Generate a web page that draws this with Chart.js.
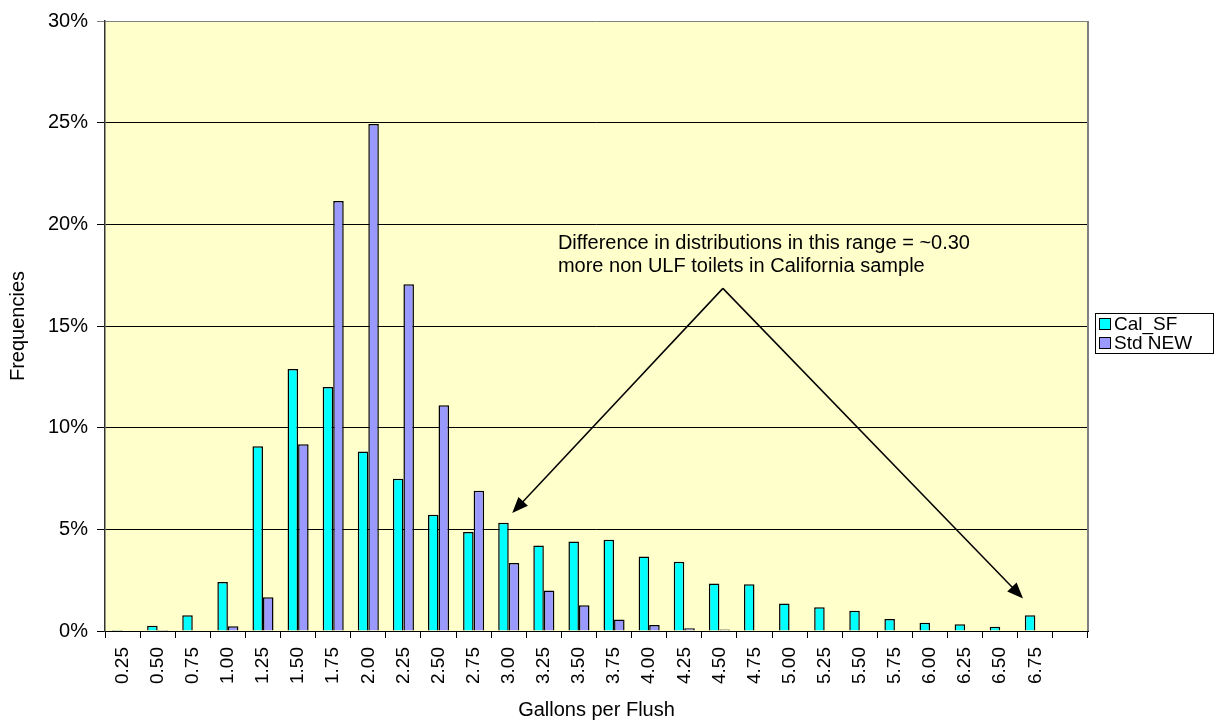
<!DOCTYPE html>
<html>
<head>
<meta charset="utf-8">
<title>Gallons per Flush</title>
<script src="https://cdn.jsdelivr.net/npm/chart.js@4.4.1/dist/chart.umd.min.js"></script>
<style>
    body { margin: 0; background: #fff; }
    #wrap { width: 1221px; height: 721px; position: relative; }
</style>
</head>
<body>
<div id="wrap"><canvas id="flushChart"></canvas></div>
<script>
// Categories (gallons per flush); the last slot is empty in the original
const gpfLabels = ['0.25', '0.50', '0.75', '1.00', '1.25', '1.50', '1.75', '2.00', '2.25', '2.50',
    '2.75', '3.00', '3.25', '3.50', '3.75', '4.00', '4.25', '4.50', '4.75', '5.00',
    '5.25', '5.50', '5.75', '6.00', '6.25', '6.50', '6.75', ''];

// Frequencies in percent
const calSF = [0.05, 0.26, 0.77, 2.41, 9.09, 12.88, 12.0, 8.83, 7.49, 5.72,
    4.87, 5.32, 4.2, 4.4, 4.49, 3.66, 3.4, 2.34, 2.3, 1.35,
    1.17, 0.99, 0.59, 0.41, 0.33, 0.21, 0.77, null];
const stdNew = [0.02, 0.05, 0.03, 0.23, 1.66, 9.18, 21.15, 24.93, 17.05, 11.1,
    6.9, 3.35, 1.99, 1.27, 0.57, 0.29, 0.13, 0.07, 0.03, 0.03,
    0.02, 0, 0.02, 0.02, 0, 0, 0.02, null];

const yTicks = [0, 5, 10, 15, 20, 25, 30];

const seriesNames = ['Cal_SF', 'Std NEW'];
const seriesColors = ['#00FFFF', '#9999FF'];

const noteLines = ['Difference in distributions in this range = ~0.30',
    'more non ULF toilets in California sample'];

const FONT = "'Liberation Sans', Arial, sans-serif";
Chart.defaults.font.family = FONT;
Chart.defaults.color = '#000';

// Yellow plot background and grey right frame
const plotFrame = {
    id: 'plotFrame',
    beforeDraw(chart) {
        const { ctx, chartArea: a } = chart;
        ctx.save();
        ctx.fillStyle = '#FFFFCC';
        ctx.fillRect(a.left, a.top, a.right - a.left, a.bottom - a.top);
        ctx.restore();
    },
    afterDraw(chart) {
        const { ctx, chartArea: a } = chart;
        ctx.save();
        ctx.strokeStyle = '#808080';
        ctx.lineWidth = 2;
        ctx.beginPath();
        ctx.moveTo(a.right, a.top);
        ctx.lineTo(a.right, a.bottom);
        ctx.stroke();
        ctx.restore();
    }
};

function arrow(ctx, x1, y1, x2, y2) {
    const ang = Math.atan2(y2 - y1, x2 - x1);
    const len = 16, half = 6.5;
    ctx.beginPath();
    ctx.moveTo(x1, y1);
    ctx.lineTo(x2 - Math.cos(ang) * len * 0.8, y2 - Math.sin(ang) * len * 0.8);
    ctx.stroke();
    ctx.beginPath();
    ctx.moveTo(x2, y2);
    ctx.lineTo(x2 - Math.cos(ang) * len + Math.sin(ang) * half, y2 - Math.sin(ang) * len - Math.cos(ang) * half);
    ctx.lineTo(x2 - Math.cos(ang) * len - Math.sin(ang) * half, y2 - Math.sin(ang) * len + Math.cos(ang) * half);
    ctx.closePath();
    ctx.fill();
}

// Note text with the two arrows, placed in axis units
const notePlugin = {
    id: 'note',
    afterDatasetsDraw(chart) {
        const { ctx, scales: { x, y } } = chart;
        const apexX = x.getPixelForValue(17.1), apexY = y.getPixelForValue(16.85);
        ctx.save();
        ctx.strokeStyle = '#000';
        ctx.fillStyle = '#000';
        ctx.lineWidth = 1.5;
        arrow(ctx, apexX, apexY, x.getPixelForValue(11.1), y.getPixelForValue(5.8));
        arrow(ctx, apexX, apexY, x.getPixelForValue(25.65), y.getPixelForValue(1.6));

        ctx.font = '20px ' + FONT;
        ctx.textAlign = 'left';
        ctx.textBaseline = 'alphabetic';
        const tx = x.getPixelForValue(12.4);
        const ty = y.getPixelForValue(18.8);
        noteLines.forEach((line, i) => ctx.fillText(line, tx, ty + i * 23));
        ctx.restore();
    }
};

// Boxed legend to the right of the plot
const boxLegend = {
    id: 'boxLegend',
    afterDraw(chart) {
        const { ctx, chartArea: a } = chart;
        const left = a.right + 7, top = 313, w = 118, h = 40;
        ctx.save();
        ctx.fillStyle = '#fff';
        ctx.fillRect(left, top, w, h);
        ctx.strokeStyle = '#000';
        ctx.lineWidth = 1;
        ctx.strokeRect(left + 0.5, top + 0.5, w, h);
        ctx.font = '19px ' + FONT;
        ctx.textBaseline = 'middle';
        chart.data.datasets.forEach((ds, i) => {
            const cy = top + 11 + i * 19;
            ctx.fillStyle = ds.backgroundColor;
            ctx.fillRect(left + 4, cy - 6, 12, 12);
            ctx.strokeRect(left + 4.5, cy - 5.5, 11, 11);
            ctx.fillStyle = '#000';
            ctx.fillText(ds.label, left + 19, cy + 1);
        });
        ctx.restore();
    }
};

function initChart() {
    const ctx = document.getElementById('flushChart').getContext('2d');
    new Chart(ctx, {
        type: 'bar',
        data: {
            labels: gpfLabels,
            datasets: [calSF, stdNew].map((vals, i) => ({
                label: seriesNames[i],
                data: vals,
                backgroundColor: seriesColors[i],
                borderColor: '#000',
                borderWidth: 1.5,
                borderSkipped: 'start',
                categoryPercentage: 0.6,
                barPercentage: 1.0
            }))
        },
        options: {
            responsive: true,
            maintainAspectRatio: false,
            animation: false,
            layout: { padding: { top: 17, right: 133, bottom: 0, left: 0 } },
            plugins: {
                legend: { display: false },
                tooltip: { enabled: false }
            },
            scales: {
                x: {
                    afterFit: s => { s.height = 90; },
                    grid: {
                        offset: true,
                        drawOnChartArea: false,
                        drawTicks: true,
                        tickLength: 7,
                        color: '#000'
                    },
                    border: { color: '#000', width: 1 },
                    ticks: {
                        autoSkip: false,
                        minRotation: 90,
                        maxRotation: 90,
                        padding: 9,
                        font: { size: 19 },
                        color: '#000'
                    },
                    title: {
                        display: true,
                        text: 'Gallons per Flush',
                        font: { size: 20, lineHeight: 1.1 },
                        padding: { top: 0, bottom: 0 },
                        color: '#000'
                    }
                },
                y: {
                    min: 0,
                    max: 30,
                    afterFit: s => { s.width = 105; },
                    afterBuildTicks: s => { s.ticks = yTicks.map(v => ({ value: v })); },
                    grid: {
                        tickLength: 8,
                        lineWidth: 1,
                        color: c => (c.tick && c.tick.value === 30 ? '#808080' : '#000')
                    },
                    border: { color: '#333', width: 1.5 },
                    ticks: {
                        padding: 9,
                        font: { size: 20 },
                        color: '#000',
                        callback: v => v + '%'
                    },
                    title: {
                        display: true,
                        text: 'Frequencies',
                        font: { size: 20, lineHeight: 1.2 },
                        padding: { top: 6, bottom: 0 },
                        color: '#000'
                    }
                }
            }
        },
        plugins: [plotFrame, notePlugin, boxLegend]
    });
}

document.addEventListener('DOMContentLoaded', initChart);
</script>
</body>
</html>
